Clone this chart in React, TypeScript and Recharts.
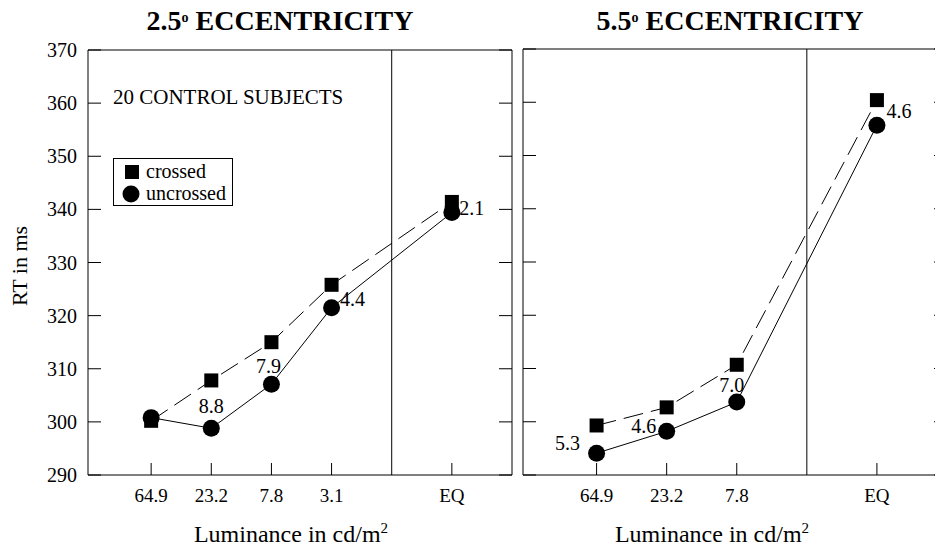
import React from 'react';
import { LineChart, Line, XAxis, YAxis, ReferenceLine, ReferenceArea, LabelList, Legend } from 'recharts';

// 2.5 deg eccentricity
const leftLuminance = ['64.9', '23.2', '7.8', '3.1', 'EQ'];
const leftSlots = [1, 2, 3, 4, 6];
const leftCrossed = [300.2, 307.8, 315.0, 325.8, 341.4];
const leftUncrossed = [300.8, 298.8, 307.1, 321.5, 339.4];
const leftSd = ['', '8.8', '7.9', '4.4', '2.1'];

// 5.5 deg eccentricity
const rightLuminance = ['64.9', '23.2', '7.8', 'EQ'];
const rightSlots = [1, 2, 3, 5];
const rightCrossed = [299.3, 302.7, 310.7, 360.4];
const rightUncrossed = [294.1, 298.2, 303.7, 355.7];
const rightSd = ['5.3', '4.6', '7.0', '4.6'];

const rtTicks = [290, 300, 310, 320, 330, 340, 350, 360, 370];

// label offsets (dx, dy) from the circle centre
const leftLabelOffsets = [[0, 0], [0, -22], [-3, -18], [21, -9], [20, -5]];
const rightLabelOffsets = [[-29, -10], [-23, -5], [-5, -17], [22, -14]];

const FONT = '"Liberation Serif", "DejaVu Serif Condensed", "DejaVu Serif", serif';
const Y_GAP = 11;
const X_GAP = 9;

const SquareDot = (props: any) => {
  const { cx, cy, index } = props;
  if (cx == null || cy == null) return <g key={index} />;
  return <rect key={index} x={cx - 7} y={cy - 7} width={14} height={14} fill="#000" />;
};

const CircleDot = (props: any) => {
  const { cx, cy, index } = props;
  if (cx == null || cy == null) return <g key={index} />;
  return <circle key={index} cx={cx} cy={cy} r={8.5} fill="#000" />;
};

const makeYTick = (showLabel: boolean, plotWidth: number) => (props: any) => {
  const { x, y, payload } = props;
  const ax = x + Y_GAP;
  return (
    <g>
      <line x1={ax} x2={ax + 13} y1={y} y2={y} stroke="#000" strokeWidth={1} />
      <line x1={ax + plotWidth - 13} x2={ax + plotWidth} y1={y} y2={y} stroke="#000" strokeWidth={1} />
      {showLabel && (
        <text x={x} y={y} textAnchor="end" dominantBaseline="central" fontFamily={FONT} fontSize={20} fill="#000">
          {payload.value}
        </text>
      )}
    </g>
  );
};

const makeXTick = (slots: number[], labels: string[]) => (props: any) => {
  const { x, y, payload } = props;
  const ay = y - X_GAP;
  const label = labels[slots.indexOf(payload.value)];
  return (
    <g>
      <line x1={x} x2={x} y1={ay} y2={ay - 12} stroke="#000" strokeWidth={1} />
      <text x={x} y={ay + 20} textAnchor="middle" dominantBaseline="central" fontFamily={FONT} fontSize={19} fill="#000">
        {label}
      </text>
    </g>
  );
};

const makeSdLabel = (offsets: number[][]) => (props: any) => {
  const { x, y, value, index } = props;
  if (!value) return null;
  const [dx, dy] = offsets[index];
  return (
    <text x={x + dx} y={y + dy} textAnchor="middle" dominantBaseline="central" fontFamily={FONT} fontSize={20} fill="#000">
      {value}
    </text>
  );
};

const LegendBox = () => (
  <div style={{ border: '1px solid #000', background: '#fff', width: 118, height: 46, position: 'relative', fontFamily: FONT, fontSize: 20, lineHeight: '22px' }}>
    <svg width={20} height={46} style={{ position: 'absolute', left: 8, top: 0 }}>
      <rect x={3} y={6} width={14} height={14} fill="#000" />
      <circle cx={9} cy={35} r={8.5} fill="#000" />
    </svg>
    <div style={{ position: 'absolute', left: 32, top: 1 }}>crossed</div>
    <div style={{ position: 'absolute', left: 32, top: 23 }}>uncrossed</div>
  </div>
);

interface PanelProps {
  left: number;
  width: number;
  top: number;
  domainMax: number;
  divider: number;
  slots: number[];
  luminance: string[];
  crossed: number[];
  uncrossed: number[];
  sd: string[];
  offsets: number[][];
  showYLabels: boolean;
  showLegend: boolean;
}

function Panel(p: PanelProps) {
  const data = p.slots.map((s, i) => ({
    x: s,
    crossed: p.crossed[i],
    uncrossed: p.uncrossed[i],
    sd: p.sd[i],
  }));
  const margin = { top: p.top, right: 10, bottom: 43, left: 0 };
  const yWidth = 88;
  const plotWidth = p.width - margin.left - margin.right - yWidth;
  return (
    <div style={{ position: 'absolute', left: p.left, top: 0 }}>
      <LineChart width={p.width} height={548} data={data} margin={margin}>
        <XAxis
          type="number"
          dataKey="x"
          domain={[-0.05, p.domainMax]}
          ticks={p.slots}
          interval={0}
          axisLine={false}
          tickLine={false}
          tickSize={0}
          tickMargin={X_GAP}
          height={30}
          tick={makeXTick(p.slots, p.luminance)}
        />
        <YAxis
          type="number"
          domain={[290, 370]}
          ticks={rtTicks}
          interval={0}
          axisLine={false}
          tickLine={false}
          tickSize={0}
          tickMargin={Y_GAP}
          width={yWidth}
          tick={makeYTick(p.showYLabels, plotWidth)}
        />
        <ReferenceArea x1={-0.05} x2={p.domainMax} y1={290} y2={370} fill="none" stroke="#000" strokeWidth={1} />
        <ReferenceLine x={p.divider} stroke="#000" strokeWidth={1} />
        <Line
          type="linear"
          dataKey="crossed"
          name="crossed"
          stroke="#000"
          strokeWidth={1}
          strokeDasharray="20 8"
          dot={SquareDot}
          activeDot={false}
          isAnimationActive={false}
        />
        <Line
          type="linear"
          dataKey="uncrossed"
          name="uncrossed"
          stroke="#000"
          strokeWidth={1}
          dot={CircleDot}
          activeDot={false}
          isAnimationActive={false}
        >
          <LabelList dataKey="sd" content={makeSdLabel(p.offsets)} />
        </Line>
        {p.showLegend && (
          <Legend
            layout="vertical"
            align="center"
            verticalAlign="middle"
            content={LegendBox}
            wrapperStyle={{ left: 113, top: 158, width: 120, height: 48 }}
          />
        )}
      </LineChart>
    </div>
  );
}

export default function App() {
  const titleStyle: React.CSSProperties = {
    position: 'absolute', top: 7, width: 400, textAlign: 'center',
    fontFamily: FONT, fontWeight: 'bold', fontSize: 28, lineHeight: 1,
  };
  const axisTitle: React.CSSProperties = {
    position: 'absolute', top: 521, width: 300, textAlign: 'center',
    fontFamily: FONT, fontSize: 24, lineHeight: 1,
  };
  return (
    <div style={{ position: 'absolute', left: 0, top: 0, width: 935, height: 548, overflow: 'hidden', background: '#fff' }}>
      <Panel
        left={0} width={522} top={50} domainMax={7} divider={5}
        slots={leftSlots} luminance={leftLuminance}
        crossed={leftCrossed} uncrossed={leftUncrossed}
        sd={leftSd} offsets={leftLabelOffsets}
        showYLabels showLegend
      />
      <Panel
        left={435} width={522} top={49} domainMax={6} divider={4}
        slots={rightSlots} luminance={rightLuminance}
        crossed={rightCrossed} uncrossed={rightUncrossed}
        sd={rightSd} offsets={rightLabelOffsets}
        showYLabels={false} showLegend={false}
      />
      <div style={{ ...titleStyle, left: 80 }}>
        2.5<sup style={{ fontSize: 14, verticalAlign: 8 }}>o</sup> ECCENTRICITY
      </div>
      <div style={{ ...titleStyle, left: 530 }}>
        5.5<sup style={{ fontSize: 14, verticalAlign: 8 }}>o</sup> ECCENTRICITY
      </div>
      <div style={{ position: 'absolute', left: 113, top: 87, fontFamily: FONT, fontSize: 21, lineHeight: 1 }}>
        20 CONTROL SUBJECTS
      </div>
      <div
        style={{
          position: 'absolute', left: -40, top: 254, width: 120, height: 24, textAlign: 'center',
          fontFamily: FONT, fontSize: 22, lineHeight: '24px', transform: 'rotate(-90deg)',
        }}
      >
        RT in ms
      </div>
      <div style={{ ...axisTitle, left: 141 }}>
        Luminance in cd/m<sup style={{ fontSize: 15, verticalAlign: 9 }}>2</sup>
      </div>
      <div style={{ ...axisTitle, left: 562 }}>
        Luminance in cd/m<sup style={{ fontSize: 15, verticalAlign: 9 }}>2</sup>
      </div>
    </div>
  );
}
